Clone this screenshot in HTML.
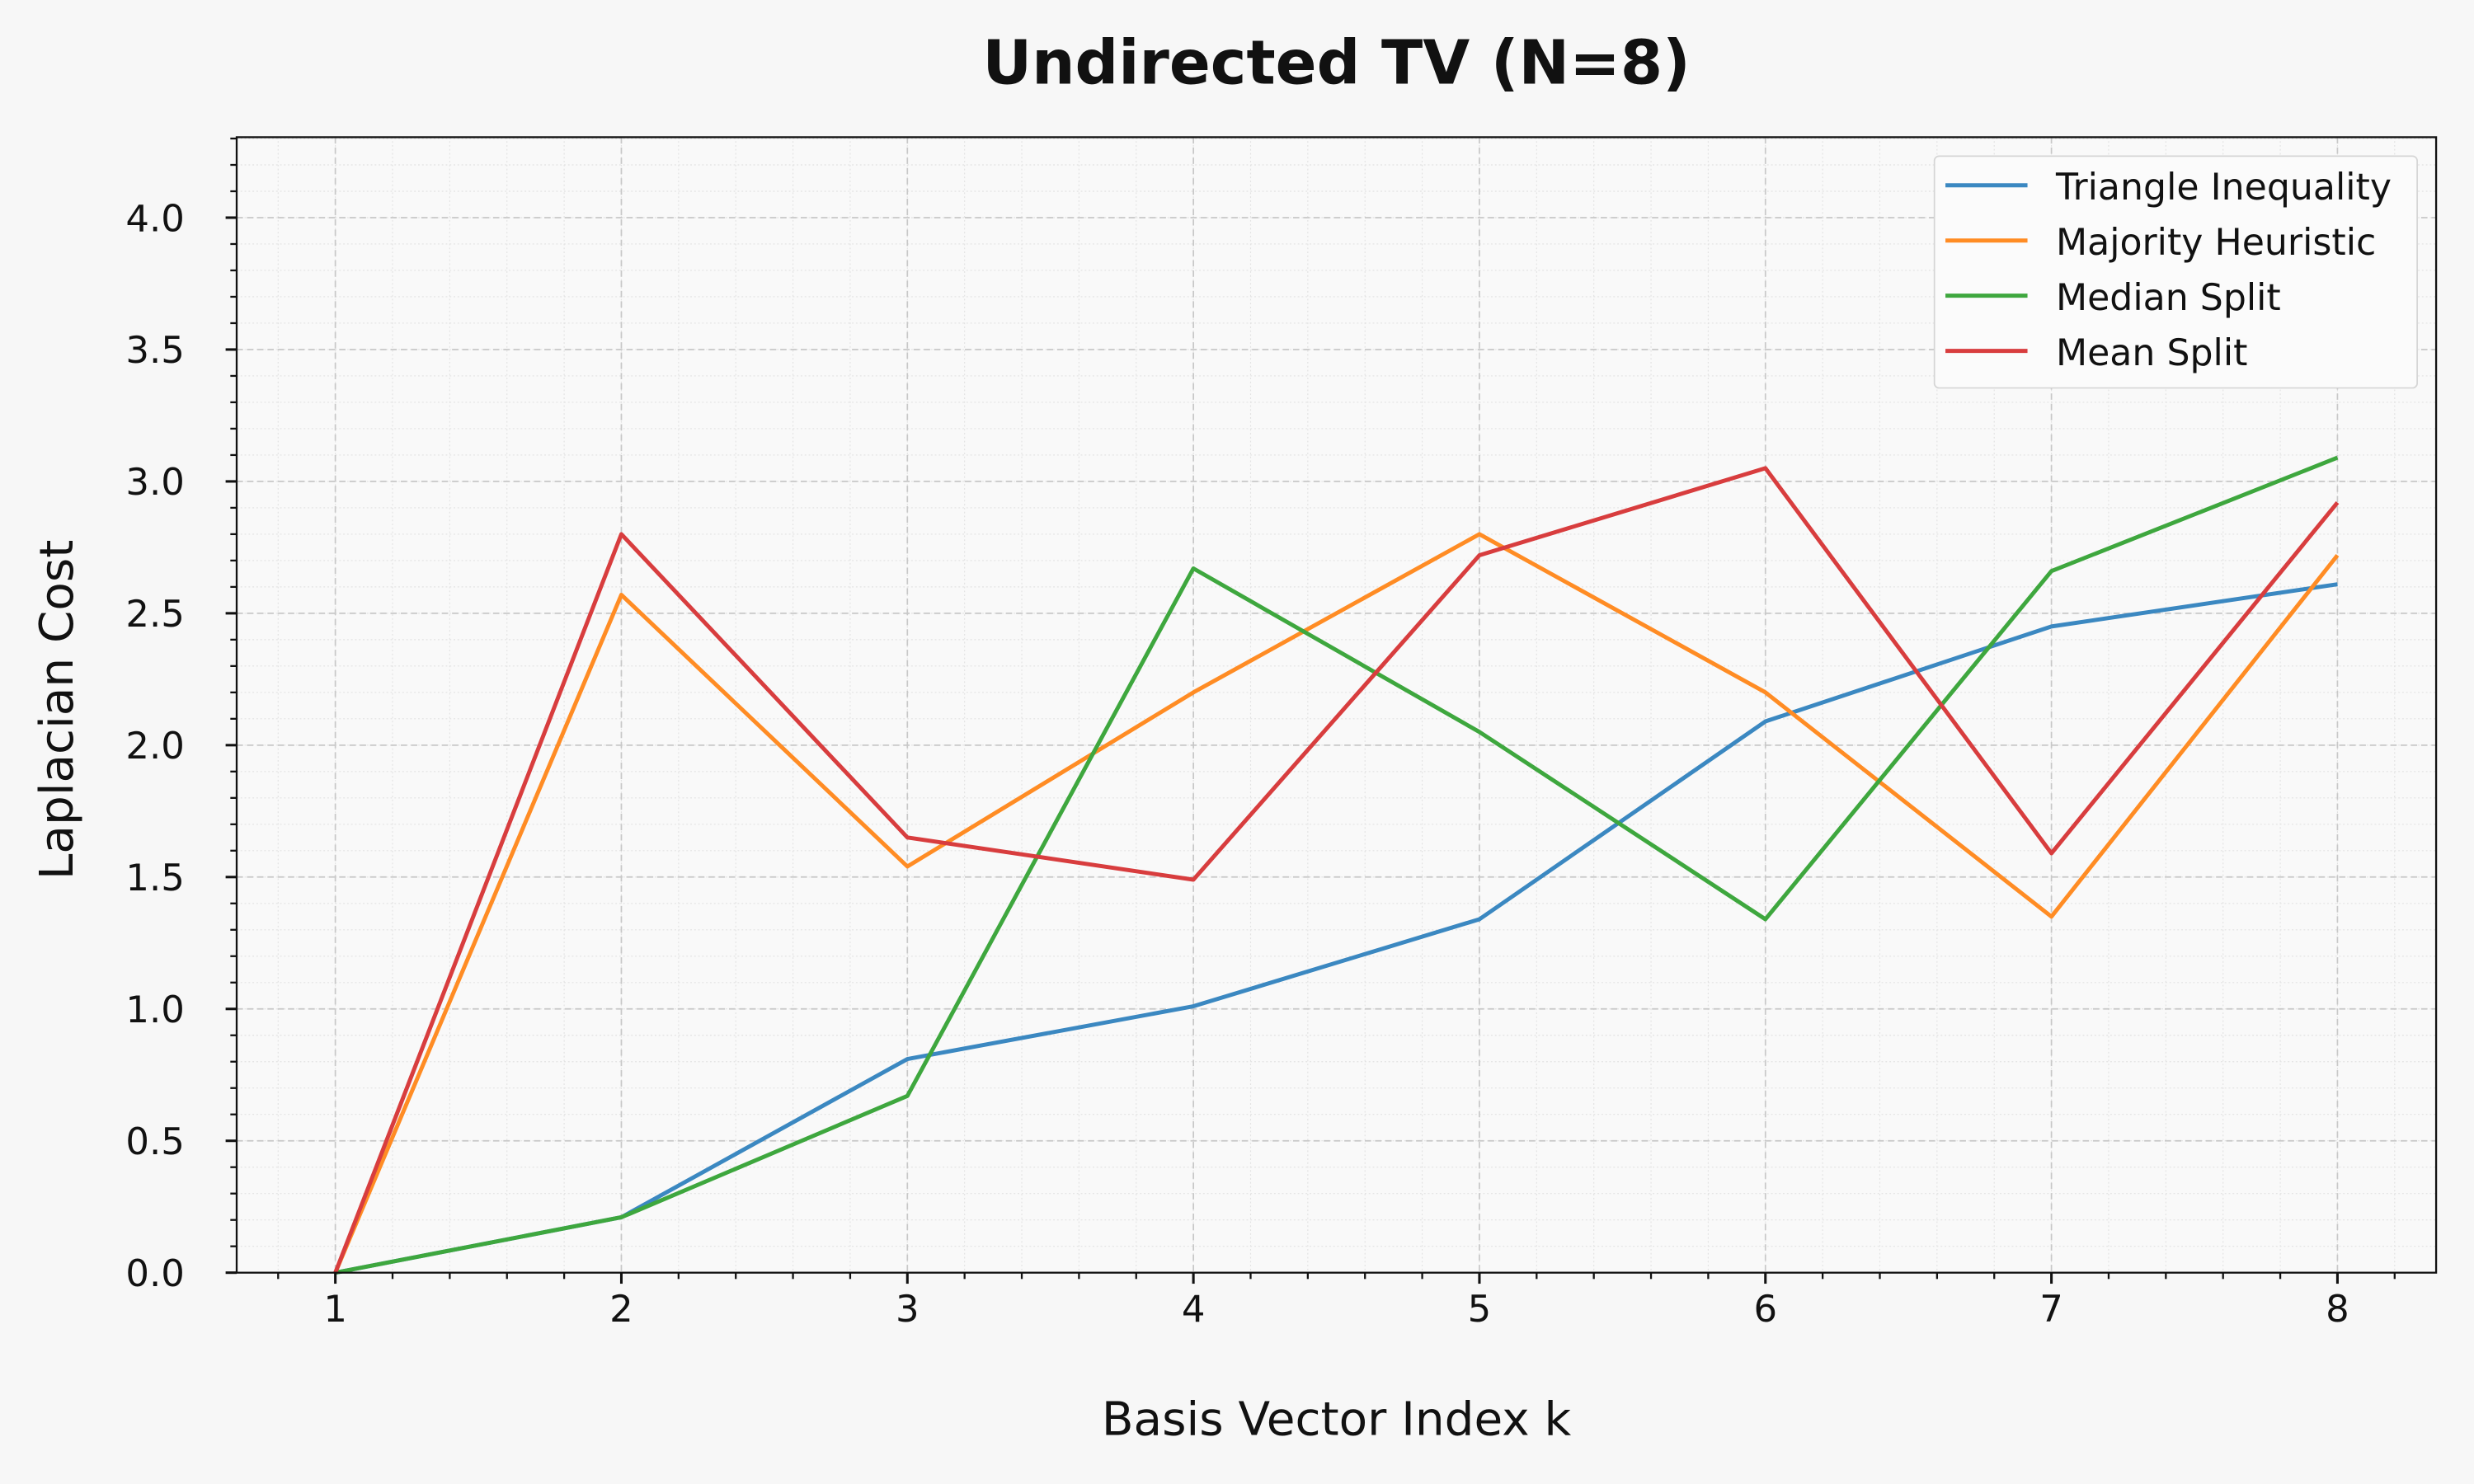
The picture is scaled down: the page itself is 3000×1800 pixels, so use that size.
<!DOCTYPE html>
<html><head><meta charset="utf-8"><style>
html,body{margin:0;padding:0;background:#f7f7f7;}
svg{display:block;font-family:"DejaVu Sans","Liberation Sans",sans-serif;}
</style></head><body>
<svg id="chart" width="3000" height="1800" viewBox="0 0 1568 941" preserveAspectRatio="none" xmlns="http://www.w3.org/2000/svg">
<rect x="0" y="0" width="1568" height="941" fill="#f7f7f7"/>
<rect x="150" y="87" width="1394" height="720" fill="#f9f9f9"/>
<g id="grid"></g>
<g id="series"></g>
<g id="axes"></g>
<text x="847" y="53" text-anchor="middle" font-size="38.5" font-weight="bold" fill="#111">Undirected TV (N=8)</text>
<text x="847" y="910" text-anchor="middle" font-size="29.5" fill="#111">Basis Vector Index k</text>
<text x="46" y="450" text-anchor="middle" font-size="29.5" fill="#111" transform="rotate(-90 46 450)">Laplacian Cost</text>
<g id="legend"></g>
</svg>
<script>
const categories = [1,2,3,4,5,6,7,8];
const seriesNames = ["Triangle Inequality","Majority Heuristic","Median Split","Mean Split"];
const triangleValues = [0,0.21,0.81,1.01,1.34,2.09,2.45,2.61];
const majorityValues = [0,2.57,1.54,2.2,2.8,2.2,1.35,2.72];
const medianValues = [0,0.21,0.67,2.67,2.05,1.34,2.66,3.09];
const meanValues = [0,2.8,1.65,1.49,2.72,3.05,1.59,2.92];
const yTickLabels = ["0.0","0.5","1.0","1.5","2.0","2.5","3.0","3.5","4.0"];
const xTickLabels = ["1","2","3","4","5","6","7","8"];

const colors = ["#3b88c1","#ff8c24","#3ea73e","#d83d3e"];
const L=150,R=1544,T=87,B=807;
const xMin=0.655,xMax=8.345,yMin=0,yMax=4.305;
const xs=v=>L+(v-xMin)/(xMax-xMin)*(R-L);
const ys=v=>B-(v-yMin)/(yMax-yMin)*(B-T);
const NS="http://www.w3.org/2000/svg";
function mk(tag,attrs,parent){const e=document.createElementNS(NS,tag);for(const k in attrs)e.setAttribute(k,attrs[k]);parent.appendChild(e);return e;}
const grid=document.getElementById('grid'),axes=document.getElementById('axes'),ser=document.getElementById('series'),leg=document.getElementById('legend');
for(let v=0.8;v<=8.3;v+=0.2){const x=xs(v);const g=mk('line',{x1:x,x2:x,y1:T,y2:B,stroke:'#e2e2e2','stroke-width':0.6,'stroke-dasharray':'1,1.5'},grid);

const t=mk('line',{x1:x,x2:x,y1:B,y2:B+4,stroke:'#111','stroke-width':1.2},axes);}
for(let i=1;i<=43;i++){const v=i*0.1;const y=ys(v);const g=mk('line',{x1:L,x2:R,y1:y,y2:y,stroke:'#e2e2e2','stroke-width':0.6,'stroke-dasharray':'1,1.5'},grid);

const t=mk('line',{x1:L,x2:L-4,y1:y,y2:y,stroke:'#111','stroke-width':1.2},axes);}
categories.forEach((c,i)=>{const x=xs(c);const g=mk('line',{x1:x,x2:x,y1:T,y2:B,stroke:'#c8c8c8','stroke-width':0.9,'stroke-dasharray':'4,2.5'},grid);

const t=mk('line',{x1:x,x2:x,y1:B,y2:B+7,stroke:'#111','stroke-width':1.6},axes);
const l=mk('text',{x:x,y:B+31,'text-anchor':'middle','font-size':23.5,fill:'#111'},axes);l.textContent=xTickLabels[i];
});
yTickLabels.forEach(s=>{const v=parseFloat(s);const y=ys(v);
if(v>0){const g=mk('line',{x1:L,x2:R,y1:y,y2:y,stroke:'#c8c8c8','stroke-width':0.9,'stroke-dasharray':'4,2.5'},grid);
}
const t=mk('line',{x1:L,x2:L-7,y1:y,y2:y,stroke:'#111','stroke-width':1.6},axes);
const l=mk('text',{x:L-33,y:y+8.5,'text-anchor':'end','font-size':23.5,fill:'#111'},axes);l.textContent=s;
});
const fr=mk('rect',{x:L,y:T,width:R-L,height:B-T,fill:'none',stroke:'#111','stroke-width':1.2},axes);

const allValues=[triangleValues,majorityValues,medianValues,meanValues];
const keys=['triangle-inequality','majority-heuristic','median-split','mean-split'];
allValues.forEach((vals,si)=>{const pts=vals.map((v,i)=>xs(categories[i])+','+ys(v)).join(' ');
const p=mk('polyline',{points:pts,fill:'none',stroke:colors[si],'stroke-width':2.6,'stroke-linejoin':'round'},ser);
});
const lb=mk('rect',{x:1226,y:99,width:306,height:147,rx:3,fill:'#fbfbfb',stroke:'#d5d5d5','stroke-width':0.9},leg);

seriesNames.forEach((n,i)=>{const y=117.5+i*35;
const ln=mk('line',{x1:1233,x2:1285,y1:y,y2:y,stroke:colors[i],'stroke-width':2.6},leg);

const t=mk('text',{x:1303,y:y+9,'font-size':23.1,fill:'#111'},leg);t.textContent=n;
});
</script>
</body></html>
